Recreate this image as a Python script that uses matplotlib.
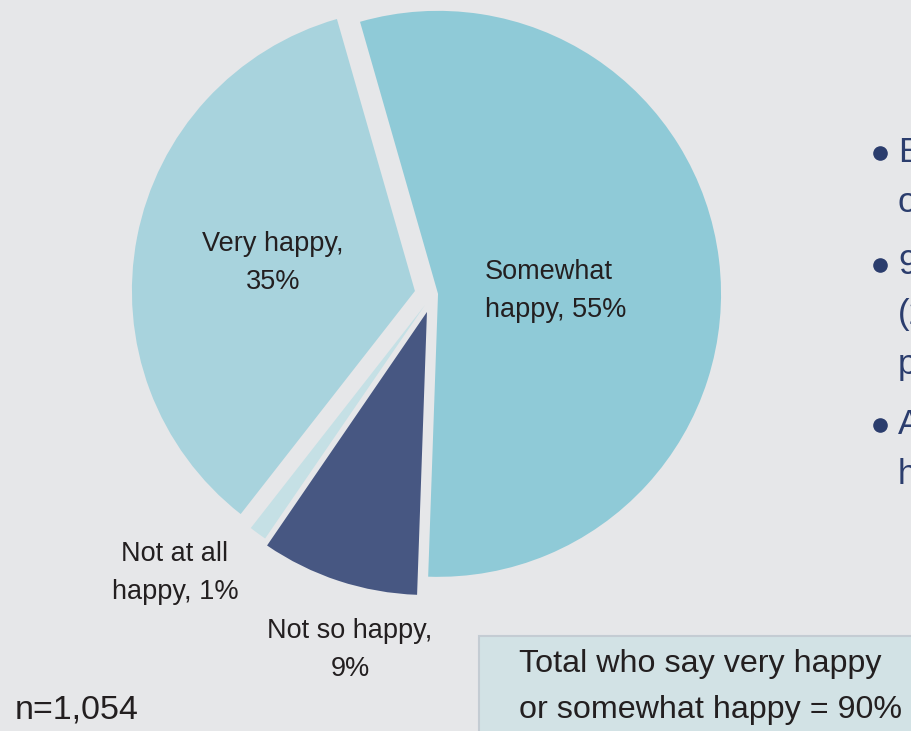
import matplotlib
matplotlib.use("Agg")
import matplotlib.pyplot as plt
from matplotlib.patches import Rectangle

# Survey responses (share of respondents, %)
categories = ["Somewhat happy", "Not so happy", "Not at all happy", "Very happy"]
shares = [55, 9, 1, 35]
label_texts = ["Somewhat\nhappy, 55%", "Not so happy,\n9%", "Not at all\nhappy, 1%", "Very happy,\n35%"]
sample_note = "n=1,054"
total_note = "Total who say very happy\nor somewhat happy = 90%"
side_lines = [["E", "o"], ["9", "(2", "p"], ["A", "h"]]

BG = "#e6e7e9"
colors = ["#8fcad7", "#475782", "#c5e0e5", "#a8d3dd"]
explode_frac = [0.019, 0.065, 0.046, 0.064]
TEXT = "#231f20"
NAVY = "#2b3d6d"
FONT = ["Liberation Sans", "DejaVu Sans"]

W, H = 912, 731
R = 283
fig = plt.figure(figsize=(W / 100, H / 100), dpi=100, facecolor=BG)
ax = fig.add_axes([0, 0, 1, 1])
ax.set_facecolor(BG)

# Pie, clockwise from just left of 12 o'clock; explode offsets are in data units
ax.pie(shares, colors=colors, explode=[e * R for e in explode_frac],
       startangle=106, counterclock=False,
       center=(432.7, H - 294.5), radius=R, frame=True,
       wedgeprops=dict(linewidth=0))
ax.set_xlim(0, W)
ax.set_ylim(0, H)
ax.set_aspect("equal")
ax.axis("off")

# Slice labels
lab_pos = {
    "Somewhat happy": (485, H - 291, "left"),
    "Not so happy": (350, H - 650, "center"),
    "Not at all happy": (175, H - 573, "center"),
    "Very happy": (273, H - 263, "center"),
}
for cat, txt in zip(categories, label_texts):
    x, y, ha = lab_pos[cat]
    ax.text(x, y, txt, ha=ha, va="center", fontsize=19.5, color=TEXT,
            family=FONT, linespacing=1.62, multialignment=ha)

ax.text(15, H - 710, sample_note, ha="left", va="center", fontsize=24.5,
        color=TEXT, family=FONT)

# Summary box
ax.add_patch(Rectangle((479, -10), 500, H - 636 + 10, facecolor="#d2e2e5",
                       edgecolor="#c4ccd3", linewidth=1.5))
ax.text(519, H - 687, total_note, ha="left", va="center", fontsize=23.2,
        color=TEXT, family=FONT, linespacing=1.68)

# Bulleted notes along the right edge
bullet_y = [153, 265, 425]
for by, lines in zip(bullet_y, side_lines):
    ax.plot([880], [H - by], "o", color=NAVY, markersize=9.5)
    for i, ln in enumerate(lines):
        ax.text(898, H - by - i * 50, ln, ha="left", va="center", fontsize=25,
                color=NAVY, family=FONT)

fig.savefig("out.png", dpi=100, facecolor=BG)
